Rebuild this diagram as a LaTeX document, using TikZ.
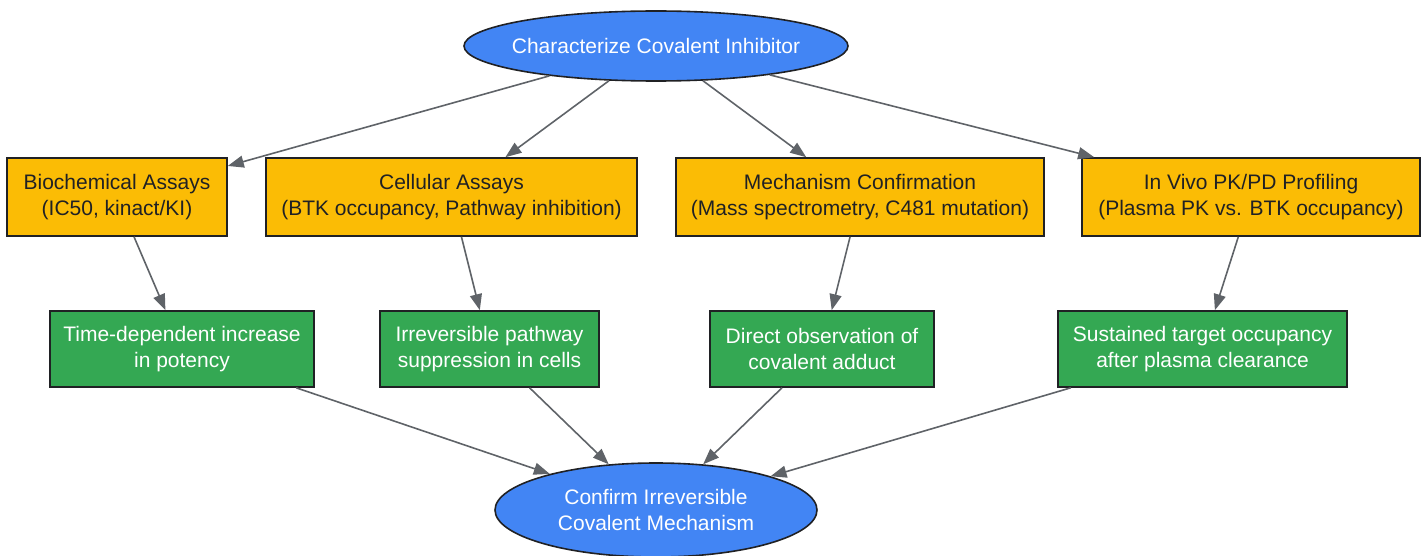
\documentclass[tikz,border=0pt]{standalone}
\usepackage{fontspec}
\setmainfont{Liberation Sans}
\usetikzlibrary{shapes.geometric,arrows.meta}
\definecolor{gblue}{HTML}{4285F4}
\definecolor{gyellow}{HTML}{FBBC05}
\definecolor{ggreen}{HTML}{34A853}
\definecolor{gedge}{HTML}{5F6368}
\definecolor{gdark}{HTML}{202124}

\begin{document}
\begin{tikzpicture}[x=0.5pt,y=-0.5pt,
  every node/.style={font=\fontsize{10.5}{13}\selectfont,align=center,inner sep=0pt,line width=0.8pt,draw=gdark},
  goal/.style={ellipse,fill=gblue,text=white},
  assay/.style={rectangle,fill=gyellow,text=gdark,minimum height=39pt},
  result/.style={rectangle,fill=ggreen,text=white,minimum height=38pt},
  edge/.style={draw=gedge,line width=0.8pt,-{Triangle[length=8pt,width=6pt]}}]
\useasboundingbox (0,0) rectangle (1428,556);

% start
\node[goal,inner xsep=-5pt,minimum width=192pt,minimum height=35pt] (start) at (656,46) {Characterize Covalent Inhibitor};

% assays
\node[assay,minimum width=110pt] (bio) at (117,197) {Biochemical Assays\\(IC50, kinact/KI)};
\node[assay,minimum width=185.5pt] (cell) at (451.5,197) {Cellular Assays\\(BTK occupancy, Pathway inhibition)};
\node[assay,minimum width=184pt] (mech) at (860,197) {Mechanism Confirmation\\(Mass spectrometry, C481 mutation)};
\node[assay,minimum width=169pt] (vivo) at (1251,197) {In Vivo PK/PD Profiling\\(Plasma PK vs. BTK occupancy)};

% observations
\node[result,minimum width=132pt] (time) at (182,349) {Time-dependent increase\\in potency};
\node[result,minimum width=109.5pt] (path) at (489.5,349) {Irreversible pathway\\suppression in cells};
\node[result,minimum width=112pt] (adduct) at (822,349) {Direct observation of\\covalent adduct};
\node[result,minimum width=144.5pt] (occ) at (1202.5,349) {Sustained target occupancy\\after plasma clearance};

% conclusion
\node[goal,minimum width=161pt,minimum height=47pt] (confirm) at (656,510) {Confirm Irreversible\\Covalent Mechanism};

% edges
\draw[edge] (start) -- (bio);
\draw[edge] (start) -- (cell);
\draw[edge] (start) -- (mech);
\draw[edge] (start) -- (vivo);
\draw[edge] (bio) -- (time);
\draw[edge] (cell) -- (path);
\draw[edge] (mech) -- (adduct);
\draw[edge] (vivo) -- (occ);
\draw[edge] (time) -- (confirm);
\draw[edge] (path) -- (confirm);
\draw[edge] (adduct) -- (confirm);
\draw[edge] (occ) -- (confirm);
\end{tikzpicture}
\end{document}
